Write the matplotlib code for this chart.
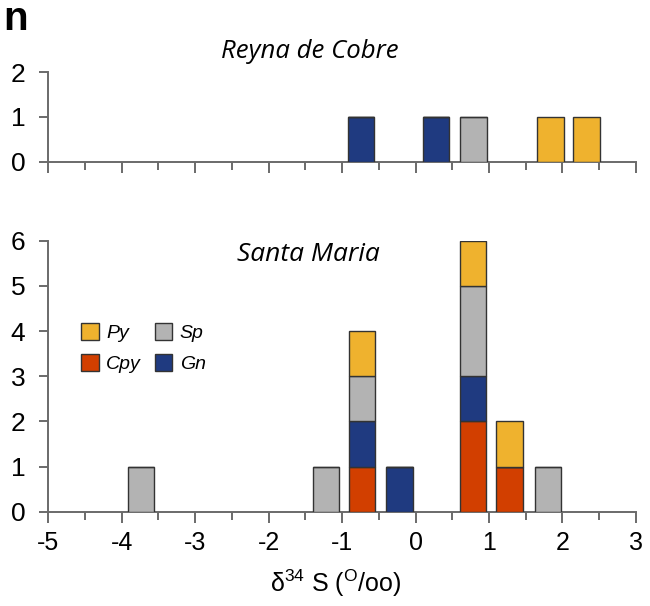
import matplotlib
matplotlib.use("Agg")
import matplotlib.pyplot as plt
from matplotlib.patches import Patch
from matplotlib.ticker import MultipleLocator

plt.rcParams['font.family'] = ['Liberation Sans', 'DejaVu Sans']
plt.rcParams['axes.unicode_minus'] = False
plt.rcParams['mathtext.fontset'] = 'custom'
plt.rcParams['mathtext.rm'] = 'Liberation Sans'
plt.rcParams['mathtext.it'] = 'Liberation Sans:italic'

# minerals, bottom to top of each stack
minerals = ['Cpy', 'Gn', 'Sp', 'Py']
colors = {'Py': '#efb22e', 'Sp': '#b3b3b3', 'Cpy': '#d23f00', 'Gn': '#1f3a80'}

# Reyna de Cobre
rc_bins = [-0.74, 0.28, 0.79, 1.84, 2.33]
rc_cpy = [0, 0, 0, 0, 0]
rc_gn = [1, 1, 0, 0, 0]
rc_sp = [0, 0, 1, 0, 0]
rc_py = [0, 0, 0, 1, 1]

# Santa Maria
sm_bins = [-3.74, -1.22, -0.73, -0.22, 0.78, 1.28, 1.80]
sm_cpy = [0, 0, 1, 0, 2, 1, 0]
sm_gn = [0, 0, 1, 1, 1, 0, 0]
sm_sp = [1, 1, 1, 0, 2, 0, 1]
sm_py = [0, 0, 1, 0, 1, 1, 0]

BAR_W = 0.36
AX_COL = '#6a6a6a'


def stacked(ax, bins, counts):
    bottom = [0] * len(bins)
    for name, vals in zip(minerals, counts):
        ax.bar(bins, vals, width=BAR_W, bottom=bottom, color=colors[name],
               edgecolor='#333333', linewidth=1.0, zorder=3)
        bottom = [b + v for b, v in zip(bottom, vals)]


def style_axis(ax, ymax, labels=True):
    ax.set_xlim(-5, 3)
    ax.set_ylim(0, ymax)
    for s in ['top', 'right']:
        ax.spines[s].set_visible(False)
    for s in ['left', 'bottom']:
        ax.spines[s].set_color(AX_COL)
        ax.spines[s].set_linewidth(1.4)
    ax.xaxis.set_major_locator(MultipleLocator(1))
    ax.xaxis.set_minor_locator(MultipleLocator(0.5))
    ax.yaxis.set_major_locator(MultipleLocator(1))
    ax.tick_params(axis='x', which='major', direction='out', length=8, width=1.4,
                   color=AX_COL, labelsize=18, pad=6, labelbottom=labels)
    ax.tick_params(axis='x', which='minor', direction='out', length=5.5, width=1.4,
                   color=AX_COL)
    ax.tick_params(axis='y', direction='out', length=6.5, width=1.4,
                   color=AX_COL, labelsize=19, pad=10)


fig = plt.figure(figsize=(6.5, 6.06), dpi=100)
ax1 = fig.add_axes([0.0743, 0.7332, 0.904, 0.1475])
ax2 = fig.add_axes([0.0743, 0.1556, 0.904, 0.4472])

stacked(ax1, rc_bins, [rc_cpy, rc_gn, rc_sp, rc_py])
style_axis(ax1, 2, labels=False)

stacked(ax2, sm_bins, [sm_cpy, sm_gn, sm_sp, sm_py])
style_axis(ax2, 6)

fig.text(309.5 / 650, 1 - 52 / 606, 'Reyna de Cobre', ha='center', va='center',
         fontsize=18.5, style='italic', family='Open Sans')
fig.text(308.5 / 650, 1 - 254 / 606, 'Santa Maria', ha='center', va='center',
         fontsize=19, style='italic', family='Open Sans')

fig.text(335.5 / 650, 1 - 583 / 606, r'$\mathrm{\delta}^{34}$ S ($^{\mathrm{O}}$/oo)',
         ha='center', va='center', fontsize=18)

fig.text(3 / 650, 1 - 30.5 / 606, 'n', fontsize=29, weight='bold',
         va='baseline', ha='left')

handles = [Patch(facecolor=colors[m], edgecolor='#333333', linewidth=1.0, label=m)
           for m in ['Py', 'Cpy', 'Sp', 'Gn']]
leg = fig.legend(handles=handles, ncol=2, loc='upper left',
                 bbox_to_anchor=(81 / 650, 1 - 323 / 606), frameon=False,
                 prop={'style': 'italic', 'size': 14},
                 handlelength=0.9, handleheight=0.95, handletextpad=0.4,
                 columnspacing=0.7, labelspacing=0.6, borderpad=0,
                 borderaxespad=0)

fig.savefig('out.png', dpi=100)
